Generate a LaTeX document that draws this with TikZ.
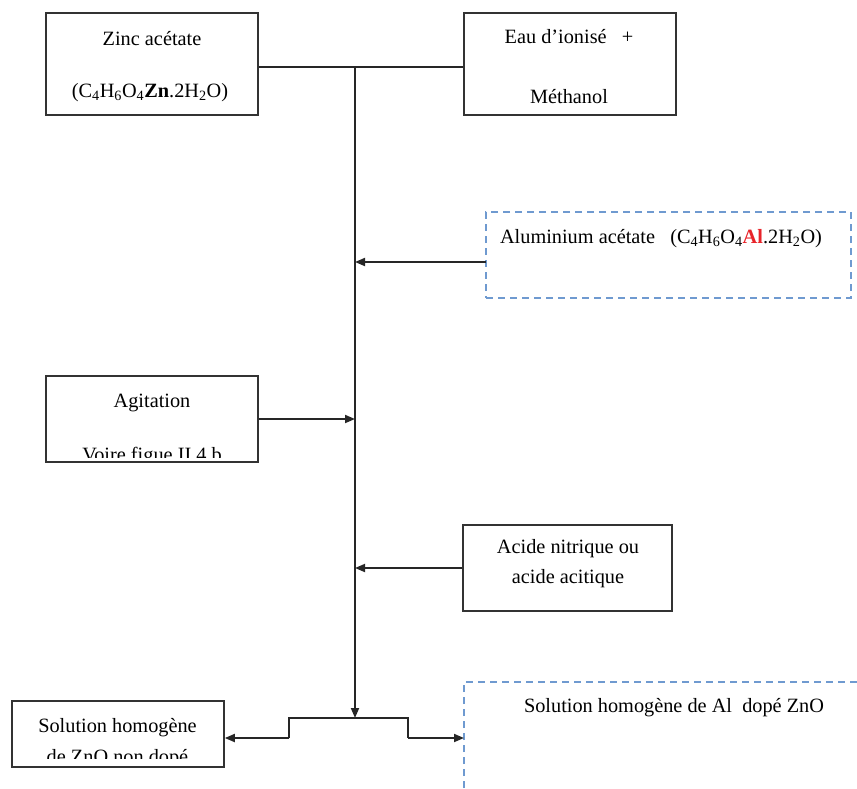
\documentclass[tikz,border=0pt]{standalone}
\usepackage{fontspec}
\setmainfont{Liberation Serif}
\usetikzlibrary{arrows.meta,calc}
\definecolor{dashblue}{HTML}{6F9AD0}
\definecolor{alred}{HTML}{E8242A}
\begin{document}
\begin{tikzpicture}[x=1pt,y=-1pt,
  box/.style={draw=black!80, line width=1.6pt, rectangle, inner sep=0pt},
  dbox/.style={draw=dashblue, line width=1.6pt, dash pattern=on 7pt off 5pt, rectangle, inner sep=0pt},
  dline/.style={draw=dashblue, line width=1.6pt, dash pattern=on 7pt off 5pt},
  txt/.style={font=\fontsize{20.3}{24}\selectfont, inner sep=0pt, anchor=base},
  conn/.style={draw=black!85, line width=1.8pt},
  arr/.style={conn, -{Triangle[length=10pt,width=8pt]}}]
\useasboundingbox (0,0) rectangle (857,788);

% boxes
\node[box, minimum width=212pt, minimum height=102pt] (zinc) at (152,64) {};
\node[box, minimum width=212pt, minimum height=102pt] (eau) at (570,64) {};
\node[dbox, minimum width=365pt, minimum height=86pt] (al) at (668.5,255) {};
\node[box, minimum width=212pt, minimum height=86pt] (agit) at (152,419) {};
\node[box, minimum width=209pt, minimum height=86pt] (acide) at (567.5,568) {};
\node[box, minimum width=212pt, minimum height=66pt] (sol) at (118,734) {};
\coordinate (dopc) at (464,682);
\coordinate (dopb) at (464,788);
\coordinate (dopr) at (857,682);
\draw[dline] (dopb) -- (dopc) -- (dopr);

% texts
\node[txt] (t1) at (152,45) {Zinc acétate};
\node[txt] (t2) at (150,97) {(C\textsubscript{4}H\textsubscript{6}O\textsubscript{4}\textbf{Zn}.2H\textsubscript{2}O)};
\node[txt] (t3) at (569,43) {Eau d’ionisé\ \ \ +};
\node[txt] (t4) at (569,103) {Méthanol};
\node[txt] (t5) at (661,243) {Aluminium acétate\ \ \ (C\textsubscript{4}H\textsubscript{6}O\textsubscript{4}\textcolor{alred}{\textbf{Al}}.2H\textsubscript{2}O)};
\node[txt] (t6) at (152,407) {Agitation};
\begin{scope}
  \clip ($(agit.north west)+(1,1)$) rectangle ($(agit.south east)+(-1,-5)$);
  \node[txt] (t7) at (152,461) {Voire figue II 4 b};
\end{scope}
\node[txt] (t8) at (568,553) {Acide nitrique ou};
\node[txt] (t9) at (568,583) {acide acitique};
\node[txt] (t10) at (117.5,732) {Solution homogène};
\begin{scope}
  \clip ($(sol.north west)+(1,1)$) rectangle ($(sol.south east)+(-1,-9)$);
  \node[txt] (t11) at (117.5,763) {de ZnO non dopé};
\end{scope}
\node[txt] (t12) at (674,712) {Solution homogène de Al\ \ dopé ZnO};

% connectors
\coordinate (j) at (355,67);
\coordinate (split) at (355,718);
\coordinate (alin) at (486,262);
\coordinate (sl) at (289,738);
\coordinate (sr) at (408,738);
\draw[conn] (zinc.east |- j) -- (eau.west |- j);
\draw[arr] (j) -- (split);
\draw[arr] (alin) -- (alin -| j);
\draw[arr] (agit.east) -- (agit.east -| j);
\draw[arr] (acide.west) -- (acide.west -| j);
\draw[conn] (sl) -- (sl |- split) -- (sr |- split) -- (sr);
\draw[arr] (sl) -- (sl -| sol.east);
\draw[arr] (sr) -- (sr -| dopc);
\end{tikzpicture}
\end{document}
